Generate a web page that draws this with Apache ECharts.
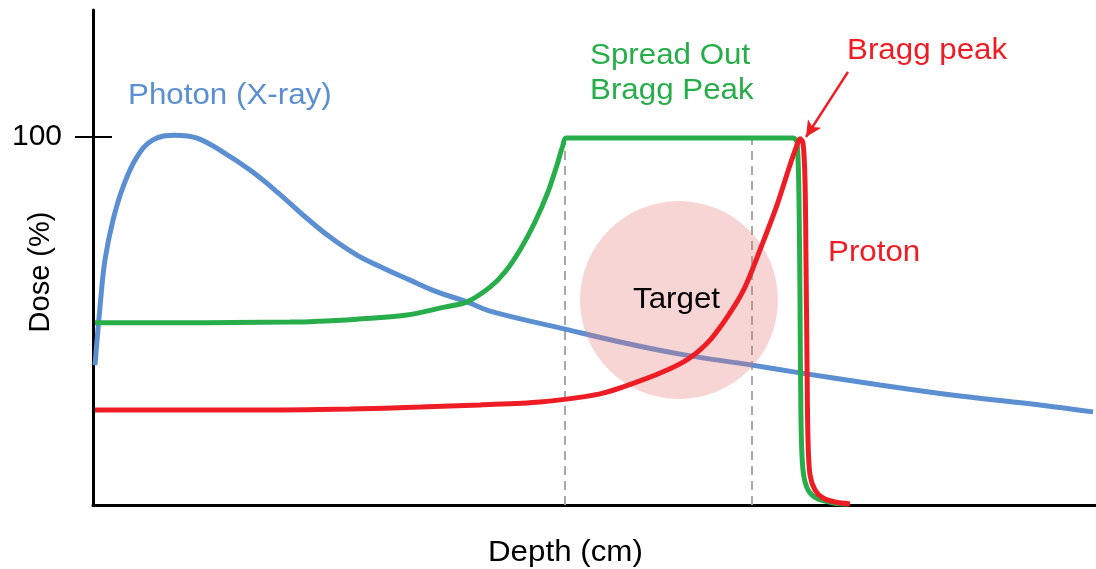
<!DOCTYPE html>
<html>
<head>
<meta charset="utf-8">
<script src="https://cdn.jsdelivr.net/npm/echarts@6/dist/echarts.min.js"></script>
<style>html,body{margin:0;padding:0;background:#fff;}#c{width:1096px;height:569px;}</style>
</head>
<body>
<div id="c"></div>
<script>
// Depth (arbitrary units) / Dose (%)
const photon = [[0.2,38.0],[0.7,53.8],[1.2,66.6],[2.0,77.4],[3.0,86.4],[4.4,94.6],[6.0,99.2],[8.2,100.5],[10.4,99.7],[13.0,95.9],[15.7,91.0],[18.4,85.1],[21.0,78.8],[23.7,72.8],[26.4,67.9],[29.0,64.4],[31.7,61.1],[34.4,57.9],[37.4,55.2],[39.7,52.7],[47.2,47.8],[52.7,44.3],[58.7,41.0],[65.9,38.0],[70.7,35.9],[78.7,32.6],[86.7,29.6],[94.7,27.2],[100.0,25.3]];
const sobp = [[0.2,49.5],[19.7,49.7],[26.4,50.5],[31.4,51.6],[34.7,53.5],[37.4,55.2],[39.7,59.2],[41.2,63.3],[42.7,69.3],[44.2,76.9],[45.5,85.1],[46.4,92.4],[47.0,97.8],[47.3,99.7],[70.0,99.7],[70.4,98.6],[70.6,82.9],[70.7,55.7],[70.8,23.1],[71.0,9.5],[71.5,4.1],[72.5,1.6],[74.2,0.5],[75.5,0.3]];
const proton = [[0.2,25.8],[15.7,25.8],[25.7,26.1],[32.7,26.6],[38.7,27.2],[44.7,28.0],[50.7,30.2],[54.7,33.7],[57.7,37.0],[59.7,40.0],[61.7,44.8],[63.7,52.2],[65.2,59.2],[66.7,69.3],[68.4,81.5],[69.7,92.4],[70.4,97.8],[70.7,99.5],[71.0,98.4],[71.2,88.3],[71.3,66.6],[71.4,39.4],[71.5,17.7],[71.7,8.2],[72.2,4.1],[73.0,1.9],[74.2,0.8],[75.7,0.3]];
const targetEdges = [47.2, 65.9];
const plateau = 99.7;
const target = [[58.6,55.7]];
const arrow = [[75.5,117.7],[71.3,100.0]];
const yTicks = [100];

const F = '"Liberation Sans", Arial, Helvetica, sans-serif';
const SX = 1.08;
const chart = echarts.init(document.getElementById('c'), null, {renderer:'canvas'});
const dashSeries = targetEdges.map(x => ({
  type:'line', data:[[x,0],[x,plateau]], symbol:'none', silent:true, z:1,
  lineStyle:{color:'#a8a8a8', width:2, type:[9,6]}
}));
function txt(t, x, y, color, extra){
  return Object.assign({type:'text', x:x, y:y, scaleX:SX, z:10,
    style:{text:t, fill:color, font:'29px '+F, align:'left', verticalAlign:'middle'}}, extra||{});
}
chart.setOption({
  animation:false,
  backgroundColor:'#fff',
  grid:{left:93, right:0, top:10, bottom:64, containLabel:false},
  xAxis:{type:'value', min:0, max:100.3, axisLine:{show:true, onZero:false, lineStyle:{color:'#000', width:3}},
    axisTick:{show:false}, axisLabel:{show:false}, splitLine:{show:false}},
  yAxis:[
    {type:'value', min:0, max:134.5, axisLine:{show:true, lineStyle:{color:'#000', width:3}},
     axisTick:{show:true, customValues:yTicks, length:18, lineStyle:{color:'#000', width:2}},
     axisLabel:{show:true, customValues:yTicks, margin:31, fontSize:30, color:'#000', fontFamily:F},
     splitLine:{show:false}},
    {type:'value', min:0, max:134.5, position:'left', axisLine:{show:false},
     axisTick:{show:true, inside:true, customValues:yTicks, length:19, lineStyle:{color:'#000', width:2}},
     axisLabel:{show:false}, splitLine:{show:false}}
  ],
  series:[
    ...dashSeries,
    {type:'line', name:'Photon', data:photon, symbol:'none', smooth:0.4, z:2,
     lineStyle:{color:'#5b8fd1', width:5}},
    {type:'scatter', name:'Target', data:target, symbol:'circle', symbolSize:198, z:3, silent:true,
     itemStyle:{color:'rgba(232,118,118,0.38)'}},
    {type:'line', name:'SOBP', data:sobp, symbol:'none', smooth:0.3, z:4,
     lineStyle:{color:'#27ad4a', width:5}},
    {type:'line', name:'Proton', data:proton, symbol:'none', smooth:0.3, z:5,
     lineStyle:{color:'#ee1d25', width:5},
     markLine:{silent:true, symbol:['none','arrow'], symbolSize:[12,16], label:{show:false},
       lineStyle:{color:'#ee1d25', width:2.5, type:'solid'},
       data:[[{coord:arrow[0]},{coord:arrow[1]}]]}}
  ],
  graphic:[
    txt('Photon (X-ray)', 128, 96, '#5b8fd1'),
    txt('Spread Out', 590, 56, '#27ad4a'),
    txt('Bragg Peak', 590, 91, '#27ad4a'),
    txt('Bragg peak', 847, 51, '#ee1d25'),
    txt('Proton', 828, 253, '#ee1d25'),
    txt('Target', 633, 300, '#000'),
    txt('Depth (cm)', 488, 553, '#000'),
    {type:'text', x:41, y:272, rotation:Math.PI/2, style:{text:'Dose (%)', fill:'#000', font:'29px '+F, align:'center', verticalAlign:'middle'}}
  ]
});
</script>
</body>
</html>
